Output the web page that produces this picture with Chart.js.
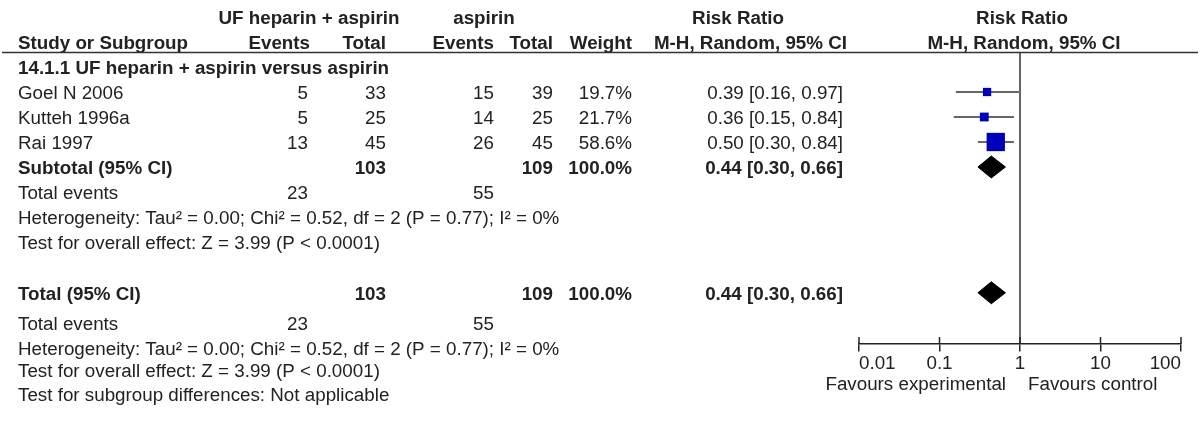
<!DOCTYPE html>
<html>
<head>
<meta charset="utf-8">
<script src="https://cdn.jsdelivr.net/npm/chart.js@4.4.1/dist/chart.umd.min.js"></script>
<style>
  html, body { margin: 0; padding: 0; background: #fff; }
  #wrap { width: 1200px; height: 433px; }
</style>
</head>
<body>
<div id="wrap"><canvas id="forest" width="1200" height="433"></canvas></div>
<script>
// per-study data
var studies = ['Goel N 2006', 'Kutteh 1996a', 'Rai 1997'];
var expEvents = [5, 5, 13];
var expTotal = [33, 25, 45];
var ctlEvents = [15, 14, 26];
var ctlTotal = [39, 25, 45];
var weights = [19.7, 21.7, 58.6];
var riskRatio = [0.39, 0.36, 0.50];
var ciLow = [0.16, 0.15, 0.30];
var ciHigh = [0.97, 0.84, 0.84];

// pooled (subtotal and total are identical, one subgroup only)
var pooledRR = 0.44;
var pooledLow = 0.30;
var pooledHigh = 0.66;
var pooledExpTotal = 103;
var pooledCtlTotal = 109;
var pooledWeight = 100.0;
var pooledExpEvents = 23;
var pooledCtlEvents = 55;

var axisTicks = [0.01, 0.1, 1, 10, 100];

var hetText = 'Heterogeneity: Tau\u00b2 = 0.00; Chi\u00b2 = 0.52, df = 2 (P = 0.77); I\u00b2 = 0%';
var effectText = 'Test for overall effect: Z = 3.99 (P < 0.0001)';
var subgroupText = 'Test for subgroup differences: Not applicable';

// row positions (in row units on the hidden y axis)
var ROW = {
  head1: -2, head2: -1, rule: -0.6, group: 0,
  subtotal: 4, subEvents: 5, subHet: 6, subTest: 7,
  total: 9.03, totEvents: 10.24, totHet: 11.22, totTest: 12.12, subgroupTest: 13.06,
  axis: 11.08, favours: 12.64
};
var col = { name: 18, expEv: 308, expTot: 386, ctlEv: 494, ctlTot: 553, weight: 632, ci: 843 };
var FONT = '"Liberation Sans", Arial, sans-serif';
var FSIZE = 18.8;
var TEXT_DY = 2;
var INK = '#222';

function ciLabel(rr, lo, hi) {
  return rr.toFixed(2) + ' [' + lo.toFixed(2) + ', ' + hi.toFixed(2) + ']';
}

function diamond(row, est, lo, hi) {
  var h = 0.44;
  return [{x: lo, y: row}, {x: est, y: row - h}, {x: hi, y: row}, {x: est, y: row + h}, {x: lo, y: row}];
}

var datasets = [];

// study squares, size grows with weight
datasets.push({
  data: studies.map(function (s, i) { return {x: riskRatio[i], y: i + 1}; }),
  pointStyle: 'rect',
  pointRadius: weights.map(function (w) { return (3.2 + 0.258 * w) / Math.SQRT2; }),
  backgroundColor: '#0000b8',
  borderWidth: 0,
  order: 0
});

// confidence interval lines
studies.forEach(function (s, i) {
  datasets.push({
    data: [{x: ciLow[i], y: i + 1}, {x: ciHigh[i], y: i + 1}],
    showLine: true, pointRadius: 0, borderColor: '#333', borderWidth: 1.5, order: 2
  });
});

// pooled diamonds
[ROW.subtotal, ROW.total].forEach(function (r) {
  datasets.push({
    data: diamond(r, pooledRR, pooledLow, pooledHigh),
    showLine: true, pointRadius: 0, borderColor: '#000', backgroundColor: '#000',
    borderWidth: 1, fill: 'shape', order: 0
  });
});

// line of no effect
datasets.push({
  data: [{x: 1, y: ROW.rule}, {x: 1, y: ROW.axis}],
  showLine: true, pointRadius: 0, borderColor: '#333', borderWidth: 1.5, order: 3
});

var tablePlugin = {
  id: 'table',
  afterDraw: function (chart) {
    var ctx = chart.ctx, y = chart.scales.y, x = chart.scales.x;
    ctx.save();
    ctx.fillStyle = INK;
    ctx.textBaseline = 'middle';
    function put(txt, px, row, align, bold) {
      ctx.font = (bold ? 'bold ' : '') + FSIZE + 'px ' + FONT;
      ctx.textAlign = align;
      ctx.fillText(String(txt), px, y.getPixelForValue(row) + TEXT_DY);
    }
    var plotMid = x.getPixelForValue(1);

    // headers
    put('UF heparin + aspirin', 309, ROW.head1, 'center', true);
    put('aspirin', 484, ROW.head1, 'center', true);
    put('Risk Ratio', 738, ROW.head1, 'center', true);
    put('Risk Ratio', plotMid + 2, ROW.head1, 'center', true);
    put('Study or Subgroup', col.name, ROW.head2, 'left', true);
    put('Events', col.expEv + 2, ROW.head2, 'right', true);
    put('Total', col.expTot, ROW.head2, 'right', true);
    put('Events', col.ctlEv, ROW.head2, 'right', true);
    put('Total', col.ctlTot, ROW.head2, 'right', true);
    put('Weight', col.weight, ROW.head2, 'right', true);
    put('M-H, Random, 95% CI', col.ci + 4, ROW.head2, 'right', true);
    put('M-H, Random, 95% CI', plotMid + 4, ROW.head2, 'center', true);

    // rule under headers
    ctx.strokeStyle = '#333';
    ctx.lineWidth = 1.5;
    ctx.beginPath();
    var ry = Math.round(y.getPixelForValue(ROW.rule)) + 0.5;
    ctx.moveTo(2, ry);
    ctx.lineTo(1198, ry);
    ctx.stroke();

    put('14.1.1 UF heparin + aspirin versus aspirin', col.name, ROW.group, 'left', true);

    studies.forEach(function (s, i) {
      var r = i + 1;
      put(s, col.name, r, 'left');
      put(expEvents[i], col.expEv, r, 'right');
      put(expTotal[i], col.expTot, r, 'right');
      put(ctlEvents[i], col.ctlEv, r, 'right');
      put(ctlTotal[i], col.ctlTot, r, 'right');
      put(weights[i].toFixed(1) + '%', col.weight, r, 'right');
      put(ciLabel(riskRatio[i], ciLow[i], ciHigh[i]), col.ci, r, 'right');
    });

    [[ROW.subtotal, 'Subtotal (95% CI)', ROW.subEvents, ROW.subHet, ROW.subTest],
     [ROW.total, 'Total (95% CI)', ROW.totEvents, ROW.totHet, ROW.totTest]].forEach(function (b) {
      put(b[1], col.name, b[0], 'left', true);
      put(pooledExpTotal, col.expTot, b[0], 'right', true);
      put(pooledCtlTotal, col.ctlTot, b[0], 'right', true);
      put(pooledWeight.toFixed(1) + '%', col.weight, b[0], 'right', true);
      put(ciLabel(pooledRR, pooledLow, pooledHigh), col.ci, b[0], 'right', true);
      put('Total events', col.name, b[2], 'left');
      put(pooledExpEvents, col.expEv, b[2], 'right');
      put(pooledCtlEvents, col.ctlEv, b[2], 'right');
      put(hetText, col.name, b[3], 'left');
      put(effectText, col.name, b[4], 'left');
    });
    put(subgroupText, col.name, ROW.subgroupTest, 'left');

    // upper half of the axis ticks
    var ay = y.getPixelForValue(ROW.axis);
    ctx.strokeStyle = INK;
    ctx.lineWidth = 1.5;
    x.ticks.forEach(function (t) {
      var px = x.getPixelForValue(t.value);
      ctx.beginPath();
      ctx.moveTo(px, ay - 7);
      ctx.lineTo(px, ay);
      ctx.stroke();
    });

    put('Favours experimental', plotMid - 14, ROW.favours, 'right');
    put('Favours control', plotMid + 8, ROW.favours, 'left');
    ctx.restore();
  }
};

new Chart(document.getElementById('forest').getContext('2d'), {
  type: 'scatter',
  data: { datasets: datasets },
  options: {
    responsive: false,
    animation: false,
    layout: { autoPadding: false, padding: { left: 859, right: 19, top: 0, bottom: 0 } },
    plugins: { legend: { display: false }, tooltip: { enabled: false } },
    scales: {
      x: {
        type: 'logarithmic',
        min: 0.01,
        max: 100,
        position: { y: ROW.axis },
        afterBuildTicks: function (scale) {
          scale.ticks = axisTicks.map(function (v) { return { value: v }; });
        },
        ticks: {
          align: 'inner', color: INK, padding: 2, autoSkip: false, maxRotation: 0,
          font: { family: FONT, size: FSIZE },
          callback: function (v) { return String(v); }
        },
        grid: { drawOnChartArea: false, drawTicks: true, tickLength: 7, color: INK, lineWidth: 1.5 },
        border: { display: true, color: INK, width: 1.5 }
      },
      y: { type: 'linear', display: false, reverse: true, min: -2.68, max: 14.64 }
    }
  },
  plugins: [tablePlugin]
});
</script>
</body>
</html>
